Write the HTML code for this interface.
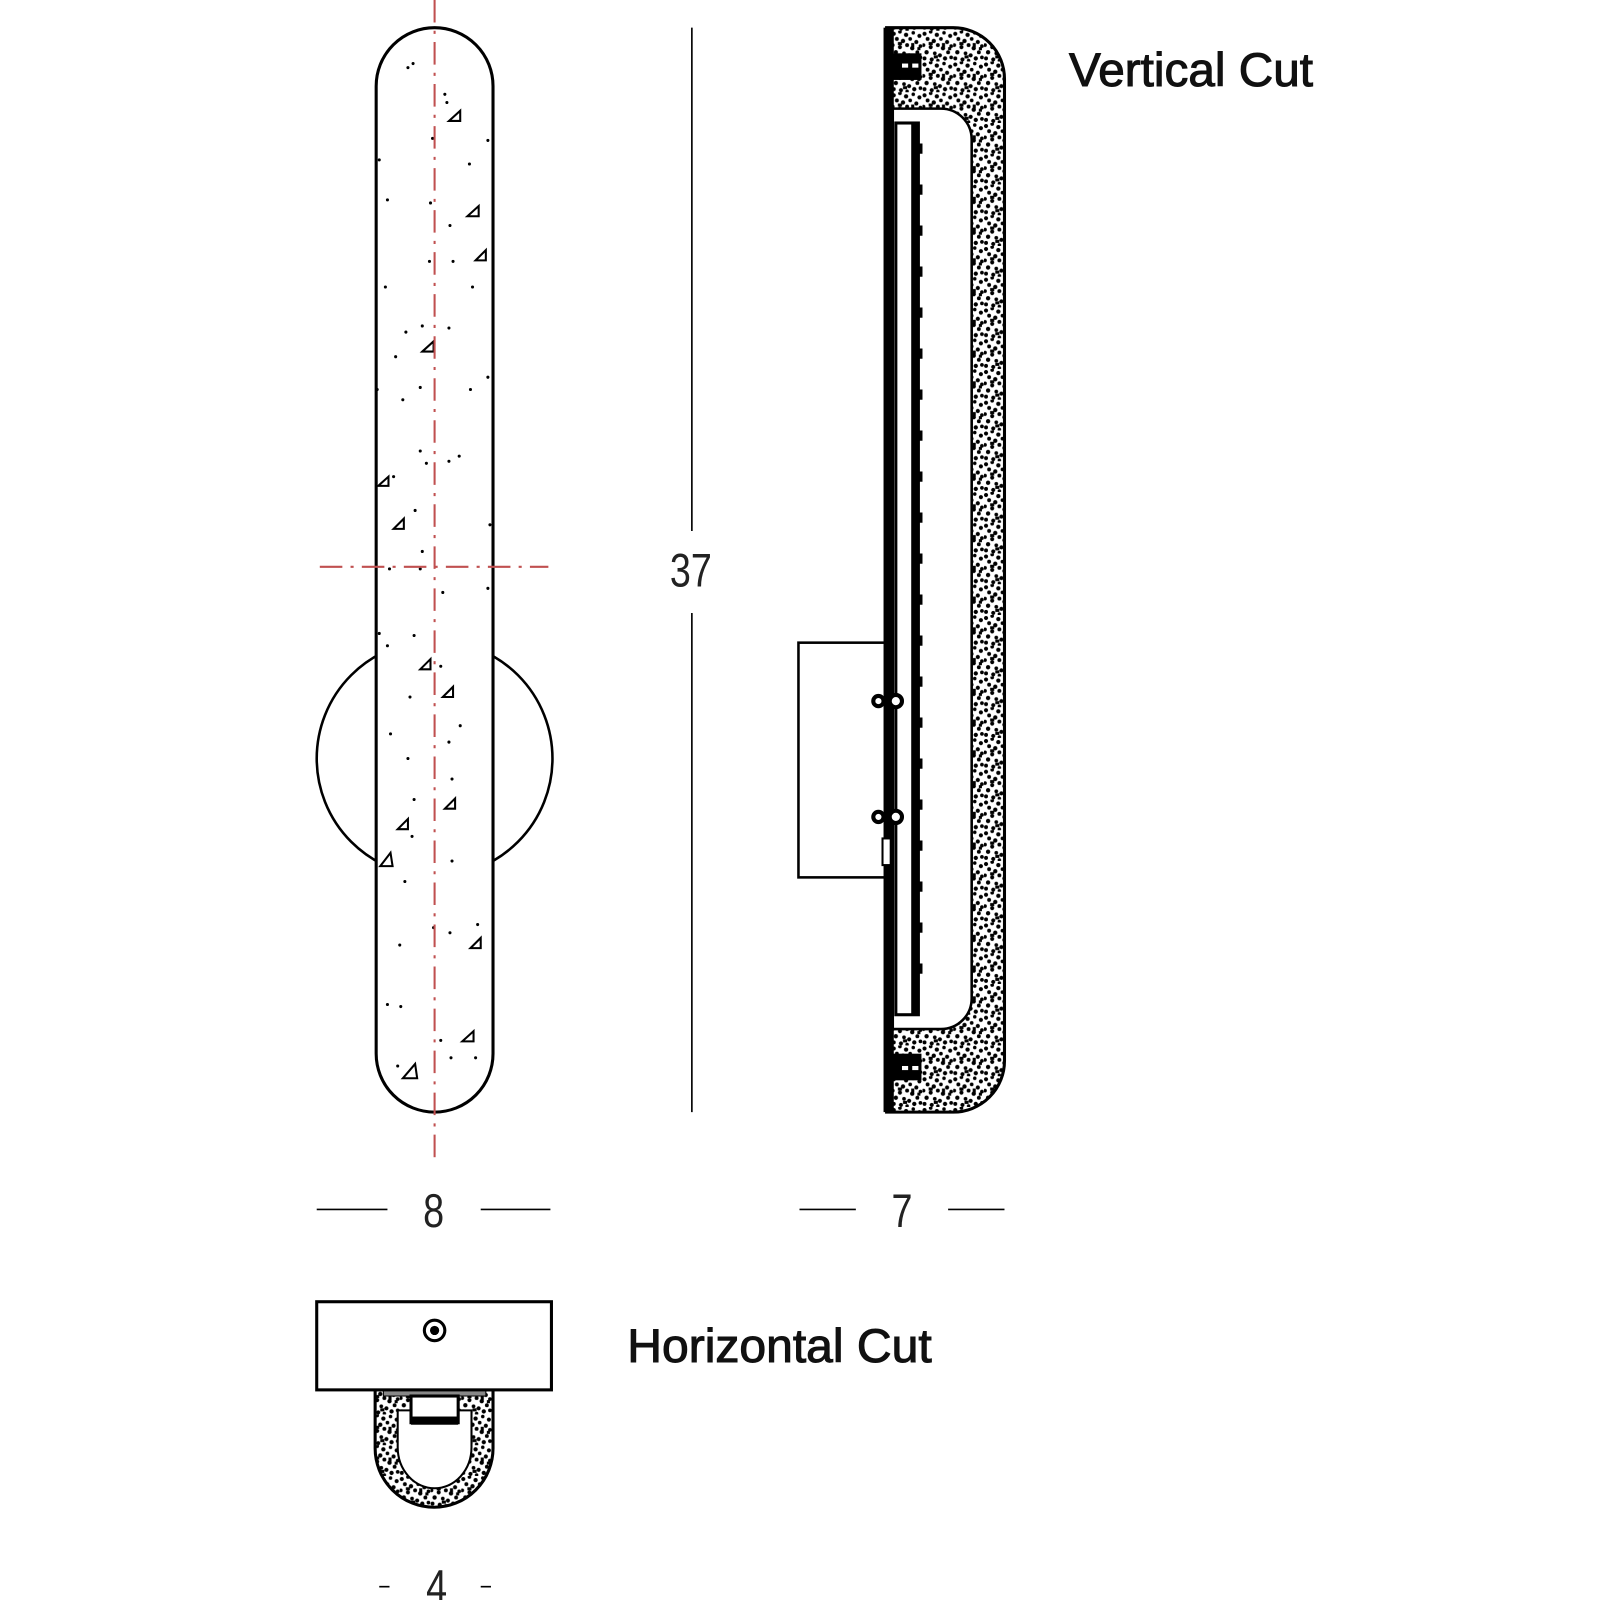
<!DOCTYPE html>
<html><head><meta charset="utf-8"><style>
html,body{margin:0;padding:0;background:#fff;width:1600px;height:1600px;overflow:hidden}
svg{display:block}
.t{font-family:"Liberation Sans",sans-serif}
</style></head><body>
<svg width="1600" height="1600" viewBox="0 0 1561 1561" xmlns="http://www.w3.org/2000/svg">
<defs>
<pattern id="st" width="30" height="30" patternUnits="userSpaceOnUse">
<rect width="30" height="30" fill="#fff"/>
<g fill="#000">
<circle cx="2" cy="3" r="2"/><circle cx="8" cy="1" r="1.8"/><circle cx="14" cy="4" r="2.1"/><circle cx="21" cy="2" r="1.7"/><circle cx="27" cy="5" r="2"/>
<circle cx="5" cy="8" r="1.9"/><circle cx="11" cy="10" r="2.1"/><circle cx="18" cy="8" r="1.8"/><circle cx="24" cy="11" r="2"/>
<circle cx="1" cy="14" r="1.8"/><circle cx="8" cy="16" r="2"/><circle cx="15" cy="14" r="1.9"/><circle cx="20" cy="17" r="2.1"/><circle cx="28" cy="15" r="1.8"/>
<circle cx="4" cy="21" r="2.1"/><circle cx="12" cy="22" r="1.8"/><circle cx="17" cy="24" r="2"/><circle cx="25" cy="21" r="1.9"/>
<circle cx="2" cy="27" r="1.9"/><circle cx="9" cy="28" r="2"/><circle cx="15" cy="29" r="1.7"/><circle cx="22" cy="27" r="2.1"/><circle cx="28" cy="26" r="1.8"/>
<rect x="6" y="11" width="4" height="3"/><rect x="19" y="12" width="3" height="4"/><rect x="11" y="24" width="4" height="3"/><rect x="25" y="16" width="3" height="3"/>
</g>
</pattern>
</defs>

<!-- Front view -->
<circle cx="424" cy="740" r="115" fill="none" stroke="#000" stroke-width="2.5"/>
<rect x="367" y="27" width="114" height="1058" rx="57" ry="57" fill="#fff" stroke="#000" stroke-width="3"/>
<g fill="#000">
<circle cx="398" cy="66" r="1.5"/><circle cx="403" cy="62" r="1.5"/><circle cx="434" cy="92" r="1.5"/><circle cx="436" cy="100" r="1.5"/><circle cx="422" cy="135" r="1.5"/><circle cx="476" cy="137" r="1.5"/><circle cx="370" cy="156" r="1.5"/><circle cx="458" cy="160" r="1.5"/><circle cx="378" cy="195" r="1.5"/><circle cx="420" cy="198" r="1.5"/><circle cx="439" cy="220" r="1.5"/><circle cx="419" cy="255" r="1.5"/><circle cx="442" cy="255" r="1.5"/><circle cx="461" cy="280" r="1.5"/><circle cx="376" cy="280" r="1.5"/><circle cx="396" cy="324" r="1.5"/><circle cx="412" cy="318" r="1.5"/><circle cx="438" cy="320" r="1.5"/><circle cx="386" cy="348" r="1.5"/><circle cx="368" cy="380" r="1.5"/><circle cx="393" cy="390" r="1.5"/><circle cx="410" cy="378" r="1.5"/><circle cx="459" cy="380" r="1.5"/><circle cx="476" cy="368" r="1.5"/><circle cx="410" cy="440" r="1.5"/><circle cx="416" cy="452" r="1.5"/><circle cx="438" cy="450" r="1.5"/><circle cx="448" cy="445" r="1.5"/><circle cx="384" cy="465" r="1.5"/><circle cx="405" cy="498" r="1.5"/><circle cx="412" cy="538" r="1.5"/><circle cx="478" cy="512" r="1.5"/><circle cx="380" cy="555" r="1.5"/><circle cx="410" cy="555" r="1.5"/><circle cx="432" cy="578" r="1.5"/><circle cx="476" cy="574" r="1.5"/><circle cx="370" cy="618" r="1.5"/><circle cx="404" cy="620" r="1.5"/><circle cx="378" cy="630" r="1.5"/><circle cx="430" cy="650" r="1.5"/><circle cx="400" cy="680" r="1.5"/><circle cx="381" cy="716" r="1.5"/><circle cx="438" cy="724" r="1.5"/><circle cx="449" cy="708" r="1.5"/><circle cx="398" cy="740" r="1.5"/><circle cx="441" cy="760" r="1.5"/><circle cx="404" cy="780" r="1.5"/><circle cx="402" cy="816" r="1.5"/><circle cx="441" cy="840" r="1.5"/><circle cx="395" cy="860" r="1.5"/><circle cx="423" cy="905" r="1.5"/><circle cx="439" cy="910" r="1.5"/><circle cx="390" cy="922" r="1.5"/><circle cx="466" cy="902" r="1.5"/><circle cx="378" cy="980" r="1.5"/><circle cx="391" cy="982" r="1.5"/><circle cx="430" cy="1015" r="1.5"/><circle cx="440" cy="1032" r="1.5"/><circle cx="464" cy="1032" r="1.5"/><circle cx="388" cy="1040" r="1.5"/>
</g>
<g fill="none" stroke="#000" stroke-width="2">
<path d="M438,118 L449,108 L449,118 Z"/><path d="M456,211 L467,201 L467,211 Z"/><path d="M464,254 L474,244 L474,254 Z"/><path d="M412,343 L423,333 L423,343 Z"/><path d="M369,474 L379,465 L379,474 Z"/><path d="M384,516 L394,506 L394,516 Z"/><path d="M410,653 L420,643 L420,653 Z"/><path d="M432,680 L442,670 L442,680 Z"/><path d="M434,789 L444,779 L444,789 Z"/><path d="M388,809 L398,799 L398,809 Z"/><path d="M371,845 L381,832 L383,845 Z"/><path d="M459,925 L469,915 L469,925 Z"/><path d="M451,1016 L462,1006 L462,1016 Z"/><path d="M393,1052 L405,1038 L407,1052 Z"/>
</g>
<g stroke="#c05050" stroke-width="2" fill="none">
<line x1="424" y1="0" x2="424" y2="1135" stroke-dasharray="22,8,3,8"/>
<line x1="312" y1="553" x2="535" y2="553" stroke-dasharray="22,8,3,8"/>
</g>

<!-- dimension 37 -->
<line x1="675" y1="27" x2="675" y2="518" stroke="#000" stroke-width="1.6"/>
<line x1="675" y1="598" x2="675" y2="1085" stroke="#000" stroke-width="1.6"/>
<text x="674" y="572" class="t" font-size="46" text-anchor="middle" fill="#222" transform="translate(674,0) scale(0.8,1) translate(-674,0)">37</text>

<!-- Side view -->
<rect x="779" y="627" width="86" height="229" fill="#fff" stroke="#000" stroke-width="2.5"/>
<path d="M865,27 H930 A50,50 0 0 1 980,77 V1035 A50,50 0 0 1 930,1085 H865 Z" fill="url(#st)" stroke="#000" stroke-width="3"/>
<path d="M871,106 H918 A30,30 0 0 1 948,136 V974 A30,30 0 0 1 918,1004 H871 Z" fill="#fff" stroke="#000" stroke-width="2.5"/>
<rect x="862" y="27" width="10" height="1058" fill="#000"/>
<rect x="871" y="52" width="28" height="26" fill="#000"/>
<rect x="880" y="62" width="6" height="4" fill="#fff"/><rect x="890" y="62" width="6" height="4" fill="#fff"/>
<rect x="871" y="1028" width="28" height="26" fill="#000"/>
<rect x="880" y="1040" width="6" height="4" fill="#fff"/><rect x="890" y="1040" width="6" height="4" fill="#fff"/>
<rect x="874" y="120" width="22" height="870" fill="#fff" stroke="#000" stroke-width="3"/>
<rect x="889" y="120" width="8" height="870" fill="#000"/>
<g fill="#000">
<rect x="896" y="140" width="4" height="10"/><rect x="896" y="180" width="4" height="10"/><rect x="896" y="220" width="4" height="10"/><rect x="896" y="260" width="4" height="10"/><rect x="896" y="300" width="4" height="10"/><rect x="896" y="340" width="4" height="10"/><rect x="896" y="380" width="4" height="10"/><rect x="896" y="420" width="4" height="10"/><rect x="896" y="460" width="4" height="10"/><rect x="896" y="500" width="4" height="10"/><rect x="896" y="540" width="4" height="10"/><rect x="896" y="580" width="4" height="10"/><rect x="896" y="620" width="4" height="10"/><rect x="896" y="660" width="4" height="10"/><rect x="896" y="700" width="4" height="10"/><rect x="896" y="740" width="4" height="10"/><rect x="896" y="780" width="4" height="10"/><rect x="896" y="820" width="4" height="10"/><rect x="896" y="860" width="4" height="10"/><rect x="896" y="900" width="4" height="10"/><rect x="896" y="940" width="4" height="10"/>
</g>
<g fill="#fff" stroke="#000" stroke-width="4">
<circle cx="857" cy="684" r="5"/><circle cx="874" cy="684" r="6"/>
<circle cx="857" cy="797" r="5"/><circle cx="874" cy="797" r="6"/>
</g>
<rect x="861" y="818" width="8" height="26" fill="#fff" stroke="#000" stroke-width="2"/>

<text x="1043" y="84" class="t" font-size="46" fill="#111" stroke="#111" stroke-width="1" textLength="238" lengthAdjust="spacingAndGlyphs">Vertical Cut</text>

<!-- dim 8 and 7 -->
<g stroke="#000" stroke-width="1.6">
<line x1="309" y1="1180" x2="378" y2="1180"/><line x1="469" y1="1180" x2="537" y2="1180"/>
<line x1="780" y1="1180" x2="835" y2="1180"/><line x1="925" y1="1180" x2="980" y2="1180"/>
<line x1="370" y1="1548" x2="380" y2="1548"/><line x1="469" y1="1548" x2="479" y2="1548"/>
</g>
<g class="t" font-size="46" fill="#222" text-anchor="middle">
<text x="423" y="1197" transform="translate(423,0) scale(0.8,1) translate(-423,0)">8</text>
<text x="880" y="1197" transform="translate(880,0) scale(0.8,1) translate(-880,0)">7</text>
<text x="426" y="1564" transform="translate(426,0) scale(0.8,1) translate(-426,0)">4</text>
</g>

<!-- Horizontal cut -->
<path d="M366,1356 V1413 A57,57 0 0 0 481,1413 V1356 Z" fill="url(#st)" stroke="#000" stroke-width="3"/>
<path d="M388,1376 V1412 A36,40 0 0 0 460,1412 V1376 Z" fill="#fff" stroke="#000" stroke-width="2"/>
<rect x="374" y="1356" width="100" height="6" fill="#888" stroke="#000" stroke-width="1"/>
<rect x="401" y="1362" width="46" height="26" fill="#fff" stroke="#000" stroke-width="3"/>
<rect x="401" y="1382" width="46" height="8" fill="#000"/>
<rect x="309" y="1270" width="229" height="86" fill="#fff" stroke="#000" stroke-width="3"/>
<circle cx="424" cy="1298" r="10" fill="#fff" stroke="#000" stroke-width="3"/>
<circle cx="424" cy="1298" r="4.5" fill="#000"/>
<text x="612" y="1329" class="t" font-size="46" fill="#111" stroke="#111" stroke-width="1" textLength="297" lengthAdjust="spacingAndGlyphs">Horizontal Cut</text>
</svg>
</body></html>
